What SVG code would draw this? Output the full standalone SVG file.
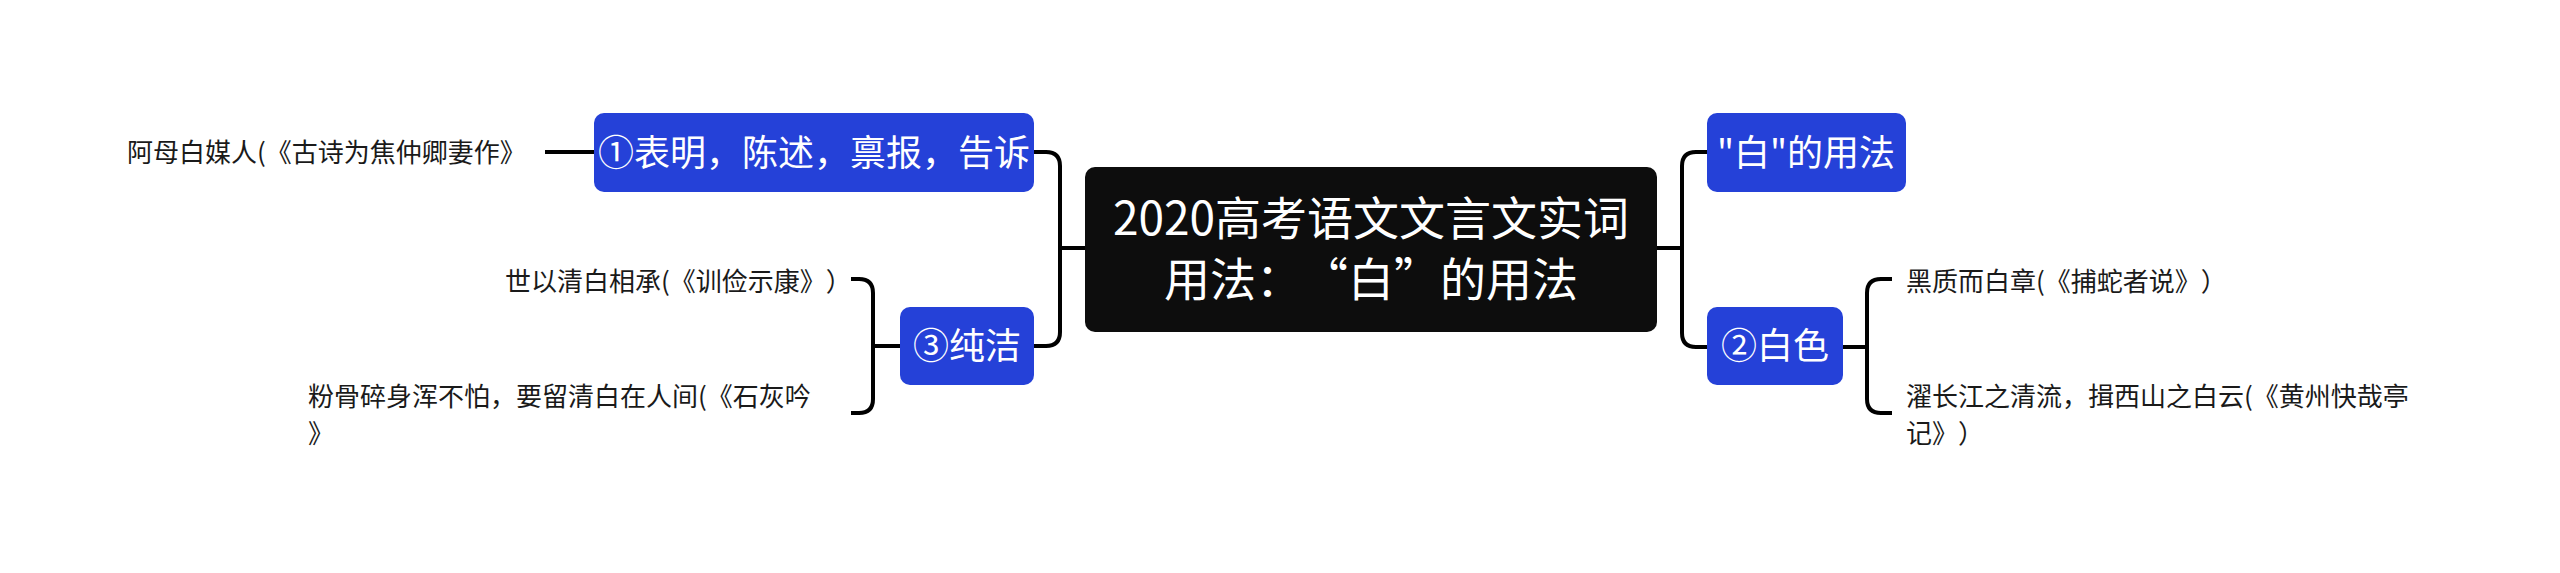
<svg xmlns="http://www.w3.org/2000/svg" width="2560" height="573" viewBox="0 0 2560 573">
<style>
svg{text-spacing-trim:space-all}
.cn{font-family:"Noto Sans CJK SC","Noto Sans",sans-serif;text-spacing-trim:space-all}
.root{fill:#0d0d0d}
.blue{fill:#2541d8}
.ntext{fill:#ffffff;font-size:36px;text-anchor:middle}
.rtext{fill:#ffffff;font-size:46px;text-anchor:middle}
.leaf{fill:#1a1a1a;font-size:26px}
.conn{fill:none;stroke:#000000;stroke-width:4;stroke-linecap:butt;stroke-linejoin:round}
</style>
<rect width="2560" height="573" fill="#ffffff"/>
<g id="connectors">
<path class="conn" d="M1085 248 H1060"/>
<path class="conn" d="M1034 152 H1046 Q1060 152 1060 166 V332 Q1060 346 1046 346 H1034"/>
<path class="conn" d="M1657 248 H1682"/>
<path class="conn" d="M1707 152 H1696 Q1682 152 1682 166 V333 Q1682 347 1696 347 H1707"/>
<path class="conn" d="M545 152 H594"/>
<path class="conn" d="M900 346 H873"/>
<path class="conn" d="M851 279 H859 Q873 279 873 293 V399 Q873 413 859 413 H851"/>
<path class="conn" d="M1843 347 H1867"/>
<path class="conn" d="M1892 279 H1881 Q1867 279 1867 293 V399 Q1867 413 1881 413 H1892"/>
</g>
<g id="root">
<rect class="root" x="1085" y="167" width="572" height="165" rx="10"/>
<text class="cn rtext" x="1371" y="235">2020高考语文文言文实词</text>
<text class="cn rtext" x="1371" y="296">用法：“白”的用法</text>
</g>
<g id="n1">
<rect class="blue" x="594" y="113" width="440" height="79" rx="10"/>
<text class="cn ntext" x="814" y="166">①表明，陈述，禀报，告诉</text>
</g>
<g id="n3">
<rect class="blue" x="900" y="307" width="134" height="78" rx="10"/>
<text class="cn ntext" x="967" y="359">③纯洁</text>
</g>
<g id="nbai">
<rect class="blue" x="1707" y="113" width="199" height="79" rx="10"/>
<text class="cn ntext" x="1806" y="166">"白"的用法</text>
</g>
<g id="n2">
<rect class="blue" x="1707" y="307" width="136" height="78" rx="10"/>
<text class="cn ntext" x="1775" y="359">②白色</text>
</g>
<g id="leaf1">
<text class="cn leaf" x="127" y="162">阿母白媒人(《古诗为焦仲卿妻作》</text>
</g>
<g id="leaf3a">
<text class="cn leaf" x="505" y="291">世以清白相承(《训俭示康》）</text>
</g>
<g id="leaf3b">
<text class="cn leaf" x="308" y="406">粉骨碎身浑不怕，要留清白在人间(《石灰吟</text>
<text class="cn leaf" x="308" y="443">》</text>
</g>
<g id="leaf2a">
<text class="cn leaf" x="1906" y="291">黑质而白章(《捕蛇者说》）</text>
</g>
<g id="leaf2b">
<text class="cn leaf" x="1906" y="406">濯长江之清流，揖西山之白云(《黄州快哉亭</text>
<text class="cn leaf" x="1906" y="443">记》）</text>
</g>
</svg>
